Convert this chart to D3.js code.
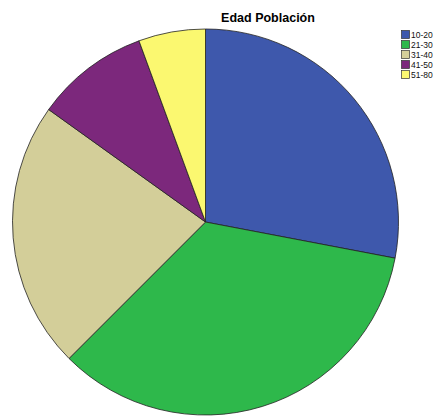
<!DOCTYPE html>
<html><head><meta charset="utf-8">
<script src="https://cdn.jsdelivr.net/npm/d3@7"></script>
<style>body{margin:0;background:#fff}</style>
</head><body>
<svg id="c" width="437" height="416"></svg>
<script>
const categories = ["10-20","21-30","31-40","41-50","51-80"];
const values = [28.0, 34.5, 22.4, 9.5, 5.6];
const colors = ["#3E58AC","#2EB84B","#D3CE99","#7C287C","#FBF870"];
const title = "Edad Población";

const svg = d3.select("#c");
const cx = 205.5, cy = 222, r = 193;
const pie = d3.pie().sort(null).value(d => d.v);
const arc = d3.arc().innerRadius(0).outerRadius(r);
const data = categories.map((c,i)=>({c, v: values[i], col: colors[i]}));
svg.append("g").attr("transform",`translate(${cx},${cy})`)
  .selectAll("path").data(pie(data)).join("path")
  .attr("d", arc).attr("fill", d=>d.data.col)
  .attr("stroke","#222").attr("stroke-width",0.8);

svg.append("text").attr("x",268).attr("y",22).attr("text-anchor","middle")
  .attr("font-family","Liberation Sans, Arial, sans-serif").attr("font-weight","bold")
  .attr("font-size",12.5).text(title);

const lg = svg.append("g");
data.forEach((d,i)=>{
  const y = 30 + i*10;
  lg.append("rect").attr("x",401.5).attr("y",y+0.5).attr("width",8).attr("height",8)
    .attr("fill",d.col).attr("stroke","#333").attr("stroke-width",0.7);
  lg.append("text").attr("x",411).attr("y",y+8).attr("font-family","Liberation Sans, Arial, sans-serif")
    .attr("font-size",8.5).attr("fill","#111").text(d.c);
});
</script>
</body></html>
